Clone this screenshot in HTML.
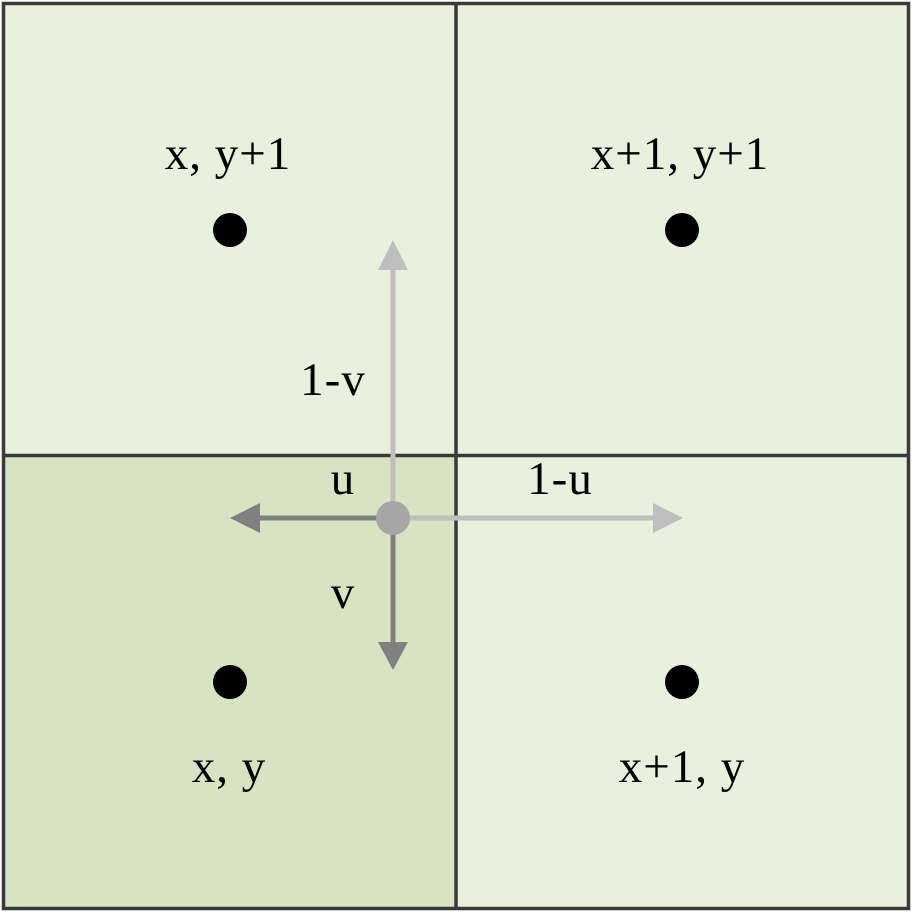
<!DOCTYPE html>
<html><head><style>body{margin:0;background:#fff}svg{display:block}text{font-family:"Liberation Serif",serif;font-size:47px;letter-spacing:1px;fill:#000}</style></head>
<body>
<svg width="912" height="912" viewBox="0 0 912 912">
<rect x="3" y="3" width="453" height="453" fill="#e9f0de"/>
<rect x="456" y="3" width="453" height="453" fill="#e9f0de"/>
<rect x="3" y="456" width="453" height="453" fill="#d7e3c2"/>
<rect x="456" y="456" width="453" height="453" fill="#e9f0de"/>
<g stroke="#3a3a3a" stroke-width="3.5" fill="none">
<rect x="3.5" y="3.5" width="905" height="905"/>
<line x1="456" y1="3" x2="456" y2="909"/>
<line x1="3" y1="455.5" x2="909" y2="455.5"/>
</g>
<g fill="#000">
<circle cx="230" cy="230" r="17"/><circle cx="682" cy="230" r="17"/>
<circle cx="230" cy="682" r="17"/><circle cx="682" cy="682" r="17"/>
</g>
<g><line x1="393" y1="518" x2="393" y2="268" stroke="#bfbfbf" stroke-width="5"/><polygon points="393,240 378,270 408,270" fill="#bfbfbf"/></g>
<g><line x1="393" y1="518" x2="655" y2="518" stroke="#bfbfbf" stroke-width="5"/><polygon points="683,518 653,503 653,533" fill="#bfbfbf"/></g>
<g><line x1="393" y1="518" x2="258" y2="518" stroke="#808080" stroke-width="5"/><polygon points="230,518 260,503 260,533" fill="#808080"/></g>
<g><line x1="393" y1="518" x2="393" y2="644" stroke="#808080" stroke-width="5"/><polygon points="393,670 378,642 408,642" fill="#808080"/></g>
<circle cx="393" cy="518" r="17" fill="#a6a6a6"/>
<text x="228" y="169" text-anchor="middle">x, y+1</text>
<text x="680" y="169" text-anchor="middle">x+1, y+1</text>
<text x="229" y="782" text-anchor="middle">x, y</text>
<text x="682" y="782" text-anchor="middle">x+1, y</text>
<text x="333" y="395" text-anchor="middle">1-v</text>
<text x="343" y="494" text-anchor="middle">u</text>
<text x="560" y="494" text-anchor="middle">1-u</text>
<text x="343" y="608" text-anchor="middle">v</text>
</svg>
</body></html>
